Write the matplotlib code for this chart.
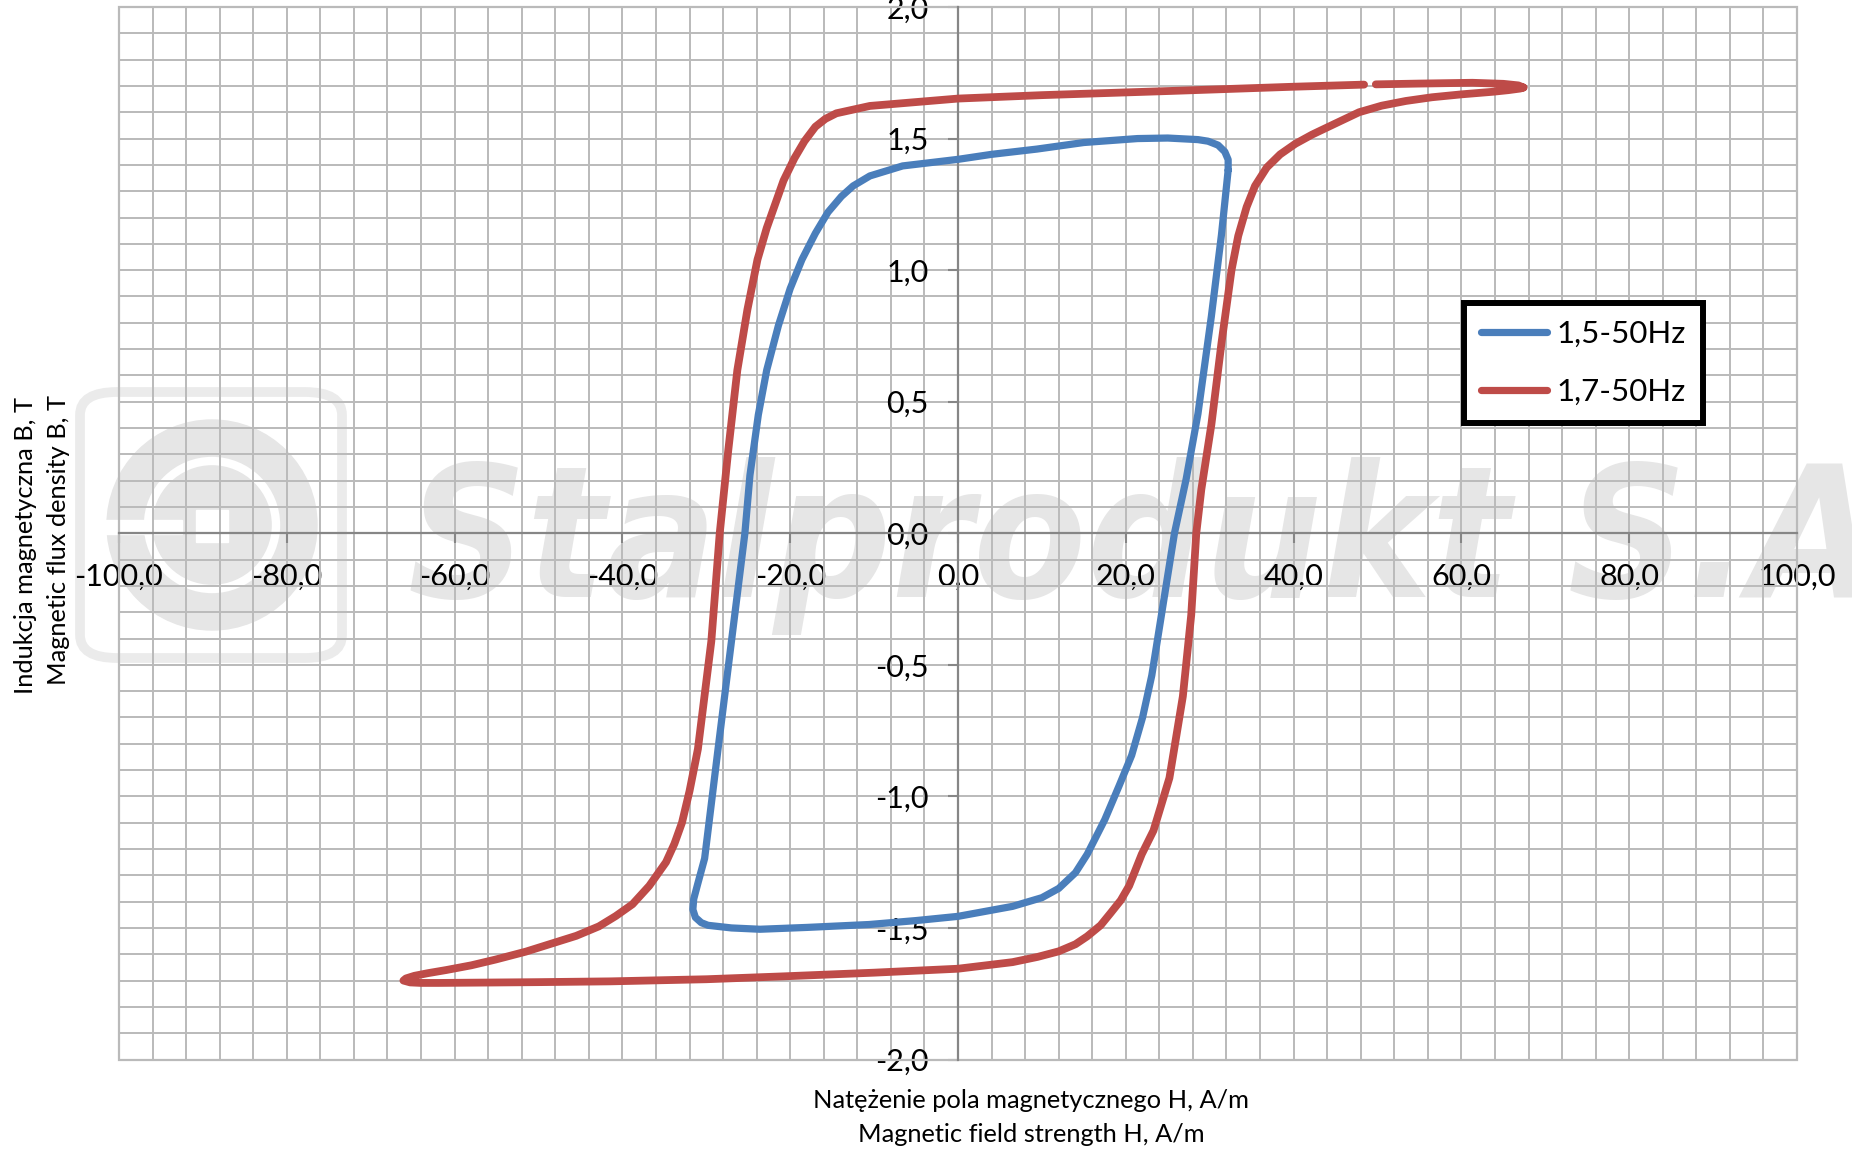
#!/usr/bin/env python3
# -*- coding: utf-8 -*-

import numpy as np
import matplotlib.pyplot as plt
from matplotlib import font_manager
from matplotlib.ticker import FuncFormatter
from matplotlib.patches import FancyBboxPatch, Ellipse, Rectangle
from matplotlib.lines import Line2D

# hysteresis loops, H in A/m, B in T
blue_H = [32.2, 32.2, 31.8, 31.0, 29.8, 28.6, 25.0, 21.4, 15.0, 9.4, 4.0, 0.0, -6.6, -10.5, -12.5,
          -13.9, -15.5, -17.0, -18.6, -20.0, -21.4, -22.8, -23.8, -24.8, -25.4, -27.0, -28.6,
          -30.2, -31.0, -31.5, -31.6, -31.3, -30.6, -29.8, -27.0, -23.6, -18.0, -10.6, -5.0,
          0.0, 6.5, 10.0, 12.0, 14.0, 15.4, 17.5, 19.2, 20.7, 22.0, 23.1, 24.6, 25.8, 27.2,
          28.6, 30.2, 31.4, 32.2]
blue_B = [1.38, 1.42, 1.45, 1.475, 1.49, 1.496, 1.502, 1.50, 1.485, 1.46, 1.44, 1.421, 1.396, 1.358, 1.32,
          1.28, 1.22, 1.14, 1.04, 0.93, 0.79, 0.62, 0.45, 0.22, 0.0, -0.41, -0.82,
          -1.236, -1.33, -1.39, -1.43, -1.46, -1.48, -1.49, -1.50, -1.505, -1.498, -1.487, -1.472,
          -1.456, -1.418, -1.385, -1.35, -1.29, -1.22, -1.088, -0.96, -0.844, -0.70, -0.54, -0.24, 0.0, 0.207,
          0.454, 0.825, 1.134, 1.38]

red_H = [67.4, 66.8, 65.0, 61.3, 55.0, 49.8, np.nan, 48.4, 40.0, 25.4, 10.0, 0.0, -10.5, -14.5,
         -15.8, -17.0, -18.3, -19.5, -20.8, -22.8, -23.9, -25.1, -26.3, -27.4, -28.4, -29.4,
         -31.0, -32.0, -32.9, -33.8, -34.8, -36.8, -38.8, -40.8, -42.8, -45.5, -48.2, -51.5,
         -55.1, -58.0, -61.0, -63.2, -64.8, -65.8, -66.1, -65.3, -64.0, -61.9, -50.0, -41.4,
         -30.0, -20.8, -10.0, 0.0, 6.5, 9.5, 12.0, 14.0, 15.4, 17.0, 18.2, 19.4, 20.4, 21.9,
         23.3, 25.2, 26.8, 27.8, 28.4, 29.0, 30.2, 31.4, 32.6, 33.4, 34.4, 35.4, 36.8, 38.4,
         40.2, 42.2, 44.5, 47.8, 50.5, 53.4, 56.5, 60.0, 63.8, 65.6, 67.0, 67.4]
red_B = [1.694, 1.702, 1.708, 1.712, 1.709, 1.706, np.nan, 1.705, 1.697, 1.681, 1.665, 1.652, 1.624, 1.596,
         1.575, 1.545, 1.49, 1.425, 1.34, 1.16, 1.04, 0.85, 0.62, 0.31, 0.0, -0.41,
         -0.82, -0.98, -1.1, -1.18, -1.25, -1.34, -1.41, -1.455, -1.494, -1.53, -1.557, -1.59,
         -1.62, -1.642, -1.66, -1.672, -1.682, -1.692, -1.700, -1.707, -1.709, -1.709, -1.706, -1.703,
         -1.695, -1.684, -1.67, -1.655, -1.630, -1.61, -1.589, -1.562, -1.532, -1.49, -1.443, -1.395, -1.34, -1.22,
         -1.13, -0.93, -0.62, -0.31, 0.0, 0.166, 0.413, 0.722, 1.0, 1.13, 1.24, 1.32, 1.39, 1.44,
         1.48, 1.515, 1.55, 1.600, 1.625, 1.643, 1.657, 1.668, 1.678, 1.684, 1.690, 1.694]

labels = ["1,5-50Hz", "1,7-50Hz"]
colors = ["#4a7ebb", "#be4b48"]

xlabel_pl = "Natężenie pola magnetycznego H, A/m"
xlabel_en = "Magnetic field strength H, A/m"
ylabel_pl = "Indukcja magnetyczna B, T"
ylabel_en = "Magnetic flux density B, T"
watermark = "Stalprodukt S.A."

plt.rcParams['font.family'] = ['Lato', 'DejaVu Sans']

# condensed bold italic face for the watermark, if one is installed
wm_prop = None
files = [f.fname for f in font_manager.fontManager.ttflist]
for key, size in [("LiberationSansNarrow-BoldItalic", 168), ("DejaVuSansCondensed-BoldOblique", 132),
                  ("LiberationSans-BoldItalic", 128), ("DejaVuSans-BoldOblique", 118)]:
    hits = [p for p in files if key in p]
    if hits:
        wm_prop = font_manager.FontProperties(fname=hits[0], size=size)
        break
if wm_prop is None:
    wm_prop = font_manager.FontProperties(family='DejaVu Sans', weight='bold', style='italic', size=118)

grid_c = "#bababa"
axis_c = "#868686"
wm_c = "#e6e6e6"

fig = plt.figure(figsize=[18.52, 11.52], dpi=100)
W, Hh = 1852.0, 1152.0

# watermark behind everything (axes background is transparent)
fig.text(408/W, 1 - 597/Hh, watermark, fontproperties=wm_prop, color=wm_c,
         ha='left', va='baseline', zorder=-5)
fig.patches.append(FancyBboxPatch((80/W, 1 - 658/Hh), 262/W, 266/Hh,
                                  boxstyle="round,pad=0,rounding_size=0.02",
                                  transform=fig.transFigure, fill=False, ec="#ebebeb", lw=7, zorder=-5))
fig.patches.append(Ellipse((212/W, 1 - 525/Hh), 210/W, 210/Hh, transform=fig.transFigure,
                           color=wm_c, zorder=-5))
fig.patches.append(Ellipse((212/W, 1 - 525/Hh), 128/W, 128/Hh, transform=fig.transFigure,
                           fill=False, ec="white", lw=6, zorder=-5))
fig.patches.append(Rectangle((196/W, 1 - 542/Hh), 32/W, 32/Hh, transform=fig.transFigure,
                             color="white", zorder=-5))
fig.patches.append(Rectangle((92/W, 1 - 534/Hh), 90/W, 14/Hh, transform=fig.transFigure,
                             color="white", zorder=-5))

ax = fig.add_axes([119/W, 1 - 1059.5/Hh, (1797-119)/W, (1059.5-7)/Hh])
ax.patch.set_visible(False)

ax.plot(blue_H, blue_B, color=colors[0], lw=5.2, solid_capstyle='round', solid_joinstyle='round', zorder=3)
ax.plot(red_H, red_B, color=colors[1], lw=5.6, solid_capstyle='round', solid_joinstyle='round', zorder=3)

ax.set_xlim(-100, 100)
ax.set_ylim(-2, 2)
ax.set_xticks(np.arange(-100, 101, 20))
ax.set_xticks(np.arange(-100, 101, 4), minor=True)
ax.set_yticks(np.arange(-2, 2.01, 0.5))
ax.set_yticks(np.arange(-2, 2.01, 0.1), minor=True)

def comma(v, pos):
    if abs(v) < 1e-9:
        v = 0.0
    return ("%.1f" % v).replace('.', ',')

ax.xaxis.set_major_formatter(FuncFormatter(comma))
ax.yaxis.set_major_formatter(FuncFormatter(comma))

ax.grid(which='both', color=grid_c, lw=1.4, zorder=1)
ax.set_axisbelow(True)

for s in ['top', 'right']:
    ax.spines[s].set_visible(False)
ax.spines['left'].set_position(('data', 0))
ax.spines['bottom'].set_position(('data', 0))
ax.spines['left'].set_color(axis_c)
ax.spines['bottom'].set_color(axis_c)
ax.spines['left'].set_linewidth(1.6)
ax.spines['bottom'].set_linewidth(1.6)
ax.add_patch(Rectangle((0, 0), 1, 1, transform=ax.transAxes, fill=False, ec=grid_c, lw=1.6,
                       clip_on=False, zorder=1))

ax.tick_params(which='major', direction='out', length=7, width=1.5, color=axis_c,
               labelsize=22, labelcolor='black', pad=14)
ax.tick_params(which='minor', length=0)

fig.text(1031/W, 1 - 1100/Hh, xlabel_pl, fontsize=18.3, ha='center', va='center')
fig.text(1031/W, 1 - 1134/Hh, xlabel_en, fontsize=18.3, ha='center', va='center')
fig.text(26/W, 1 - 546/Hh, ylabel_pl, fontsize=18.3, ha='center', va='center', rotation=90)
fig.text(59/W, 1 - 540/Hh, ylabel_en, fontsize=18.3, ha='center', va='center', rotation=90)

handles = [Line2D([], [], color=colors[0], lw=5.2, solid_capstyle='round'),
           Line2D([], [], color=colors[1], lw=5.2, solid_capstyle='round')]
leg = ax.legend(handles, labels, loc='upper left', bbox_to_anchor=(1464/W, 1 - 303/Hh),
                bbox_transform=fig.transFigure, borderaxespad=0, fontsize=22.5, frameon=True,
                fancybox=False, edgecolor='black', framealpha=1, handlelength=2.1,
                handletextpad=0.3, borderpad=0.55, labelspacing=0.95)
leg.get_frame().set_linewidth(4.3)
leg.set_zorder(5)

plt.savefig("out.png", dpi=100)
